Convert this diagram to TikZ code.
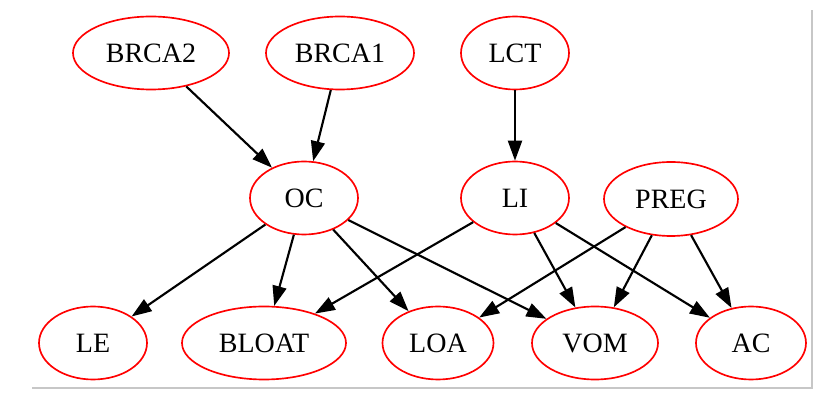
\documentclass[tikz,border=0pt]{standalone}
\usepackage{fontspec}
\setmainfont{Liberation Serif}
\usetikzlibrary{shapes.geometric,arrows.meta}
\begin{document}
\begin{tikzpicture}[x=0.75pt,y=-0.75pt,
  var/.style={ellipse,draw=red,line width=1.25pt,inner sep=0pt,
    font=\fontsize{21}{24}\selectfont},
  link/.style={-{Triangle[length=15pt,width=10.5pt]},line width=1.6pt,black}]
\useasboundingbox (0,0) rectangle (819,413);
\draw[black!22,line width=1.2pt] (32,388) -- (812,388) -- (812,10);
% top row
\node[var,minimum width=156*0.75pt,minimum height=73*0.75pt] (brca2) at (151,53) {BRCA2};
\node[var,minimum width=148*0.75pt,minimum height=73*0.75pt] (brca1) at (340,53) {BRCA1};
\node[var,minimum width=108*0.75pt,minimum height=73*0.75pt] (lct) at (515,53) {LCT};
% middle row
\node[var,minimum width=108*0.75pt,minimum height=73*0.75pt] (oc) at (304,198) {OC};
\node[var,minimum width=108*0.75pt,minimum height=73*0.75pt] (li) at (515,198) {LI};
\node[var,minimum width=134*0.75pt,minimum height=74*0.75pt] (preg) at (671,199) {PREG};
% bottom row
\node[var,minimum width=108*0.75pt,minimum height=73*0.75pt] (le) at (93,343) {LE};
\node[var,minimum width=164*0.75pt,minimum height=73*0.75pt] (bloat) at (264,343) {BLOAT};
\node[var,minimum width=111*0.75pt,minimum height=73*0.75pt] (loa) at (438,343) {LOA};
\node[var,minimum width=126*0.75pt,minimum height=73*0.75pt] (vom) at (595,343) {VOM};
\node[var,minimum width=110*0.75pt,minimum height=73*0.75pt] (ac) at (751,343) {AC};
% edges
\draw[link] (brca2) -- (oc);
\draw[link] (brca1) -- (oc);
\draw[link] (lct) -- (li);
\draw[link] (oc) -- (le);
\draw[link] (oc) -- (bloat);
\draw[link] (oc) -- (loa);
\draw[link] (oc) -- (vom);
\draw[link] (li) -- (bloat);
\draw[link] (li) -- (vom);
\draw[link] (li) -- (ac);
\draw[link] (preg) -- (loa);
\draw[link] (preg) -- (vom);
\draw[link] (preg) -- (ac);
\end{tikzpicture}
\end{document}
